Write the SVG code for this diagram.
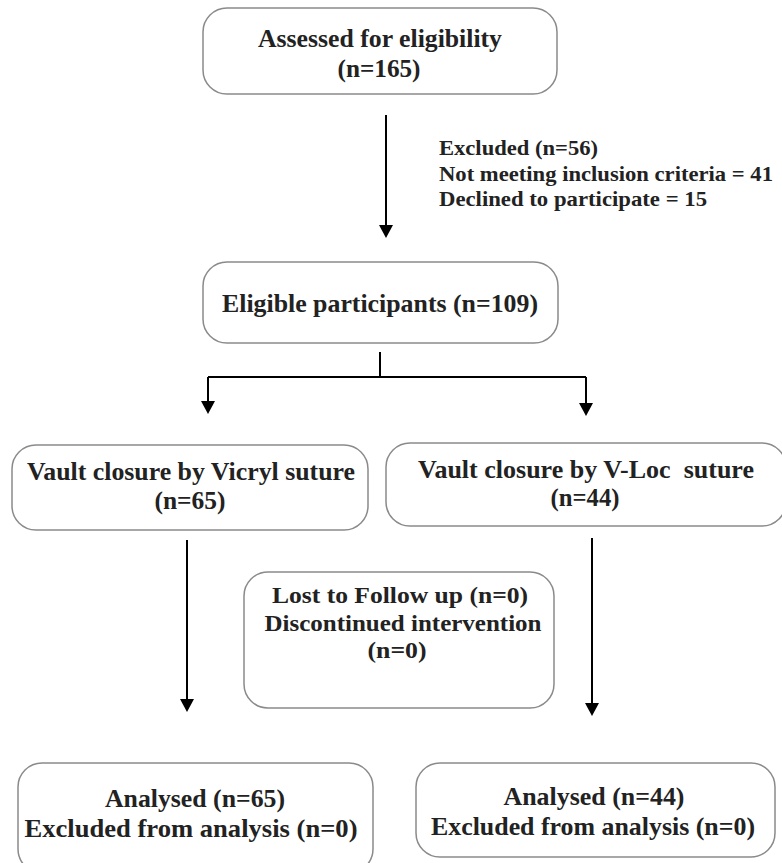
<svg xmlns="http://www.w3.org/2000/svg" width="782" height="863" viewBox="0 0 782 863">
<style>
.box{fill:#fff;stroke:#8a8a8a;stroke-width:1.5}
.t{font-family:"Liberation Serif","Times New Roman",serif;font-weight:bold;fill:#222;text-anchor:middle}
.tl{font-family:"Liberation Serif","Times New Roman",serif;font-weight:bold;fill:#222}
.c{fill:none;stroke:#000;stroke-width:2}
</style>
<rect width="782" height="863" fill="#fff"/>
<g id="connectors">
<path class="c" d="M386,115 V225"/>
<path d="M379,225 L393,225 L386,238 Z" fill="#000"/>
<path class="c" d="M380,352 V377 M208,377 H586 M208,377 V401 M586,377 V403"/>
<path d="M201,401 L215,401 L208,414 Z" fill="#000"/>
<path d="M579,403 L593,403 L586,416 Z" fill="#000"/>
<path class="c" d="M187,540 V699"/>
<path d="M180,699 L194,699 L187,712 Z" fill="#000"/>
<path class="c" d="M592,538 V703"/>
<path d="M585,703 L599,703 L592,716 Z" fill="#000"/>
</g>
<g id="assessed">
<rect class="box" x="203" y="8" width="354" height="86" rx="24"/>
<text class="t" x="380" y="47" font-size="25" textLength="244" lengthAdjust="spacingAndGlyphs">Assessed for eligibility</text>
<text class="t" x="379" y="77" font-size="25" textLength="83" lengthAdjust="spacingAndGlyphs">(n=165)</text>
</g>
<g id="excluded">
<text class="tl" x="439" y="155" font-size="21" textLength="159" lengthAdjust="spacingAndGlyphs">Excluded (n=56)</text>
<text class="tl" x="439" y="181" font-size="21" textLength="334" lengthAdjust="spacingAndGlyphs">Not meeting inclusion criteria = 41</text>
<text class="tl" x="439" y="206" font-size="21" textLength="268" lengthAdjust="spacingAndGlyphs">Declined to participate = 15</text>
</g>
<g id="eligible">
<rect class="box" x="203" y="262" width="355" height="81" rx="24"/>
<text class="t" x="380" y="312" font-size="25" textLength="316" lengthAdjust="spacingAndGlyphs">Eligible participants (n=109)</text>
</g>
<g id="vicryl">
<rect class="box" x="12" y="445" width="356" height="85" rx="24"/>
<text class="t" x="191" y="480" font-size="26" textLength="328" lengthAdjust="spacingAndGlyphs">Vault closure by Vicryl suture</text>
<text class="t" x="190" y="509" font-size="26" textLength="71" lengthAdjust="spacingAndGlyphs">(n=65)</text>
</g>
<g id="vloc">
<rect class="box" x="386" y="443" width="400" height="83" rx="24"/>
<text class="t" x="586" y="478" font-size="26" textLength="336" lengthAdjust="spacingAndGlyphs" xml:space="preserve">Vault closure by V-Loc  suture</text>
<text class="t" x="585" y="506" font-size="26" textLength="69" lengthAdjust="spacingAndGlyphs">(n=44)</text>
</g>
<g id="lost">
<rect class="box" x="244" y="572" width="310" height="136" rx="24"/>
<text class="t" x="400" y="603" font-size="24" textLength="256" lengthAdjust="spacingAndGlyphs">Lost to Follow up (n=0)</text>
<text class="t" x="403" y="631" font-size="24" textLength="277" lengthAdjust="spacingAndGlyphs">Discontinued intervention</text>
<text class="t" x="397" y="658" font-size="24" textLength="59" lengthAdjust="spacingAndGlyphs">(n=0)</text>
</g>
<g id="analysed-vicryl">
<rect class="box" x="18" y="763" width="355" height="110" rx="24"/>
<text class="t" x="195" y="807" font-size="26" textLength="180" lengthAdjust="spacingAndGlyphs">Analysed (n=65)</text>
<text class="t" x="191" y="837" font-size="26" textLength="333" lengthAdjust="spacingAndGlyphs">Excluded from analysis (n=0)</text>
</g>
<g id="analysed-vloc">
<rect class="box" x="416" y="763" width="359" height="94" rx="24"/>
<text class="t" x="594" y="805" font-size="26" textLength="181" lengthAdjust="spacingAndGlyphs">Analysed (n=44)</text>
<text class="t" x="593" y="835" font-size="26" textLength="324" lengthAdjust="spacingAndGlyphs">Excluded from analysis (n=0)</text>
</g>
</svg>
